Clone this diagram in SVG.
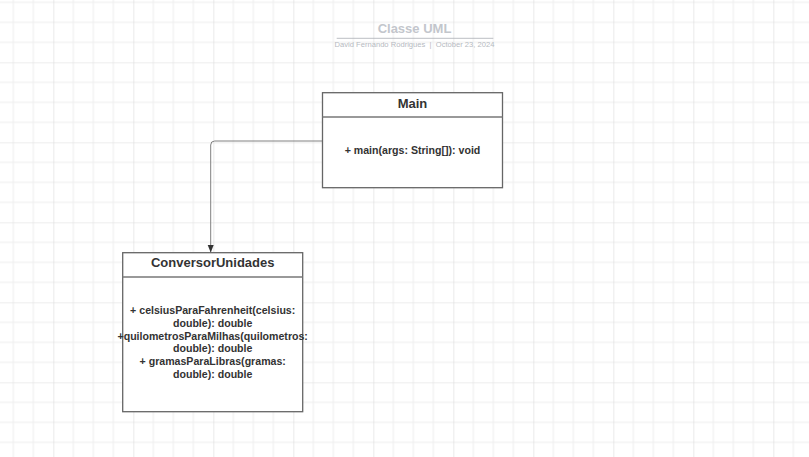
<svg xmlns="http://www.w3.org/2000/svg" width="809" height="457" viewBox="0 0 809 457">
  <defs>
    <pattern id="grid" x="53.33" y="62.33" width="80" height="80" patternUnits="userSpaceOnUse">
      <path d="M20 0V80M40 0V80M60 0V80M0 20H80M0 40H80M0 60H80" stroke="#ededed" stroke-width="1" fill="none"/>
      <path d="M0 0V80M0 0H80" stroke="#dcdcdc" stroke-width="1.2" fill="none"/>
    </pattern>
    <marker id="arrow" viewBox="0 0 8 8" refX="8" refY="4" markerWidth="8" markerHeight="8" markerUnits="userSpaceOnUse" orient="auto">
      <path d="M0 0.8L8 4L0 7.2Z" fill="#333"/>
    </marker>
    <style>
      .box{fill:#fff;stroke:#666;stroke-width:1.3}
      .div{stroke:#777;stroke-width:1.5}
      .hdr{font-family:"Liberation Sans",Arial,sans-serif;font-weight:bold;font-size:13px;fill:#333;text-anchor:middle}
      .m{font-family:"Liberation Sans",Arial,sans-serif;font-weight:bold;font-size:10.6px;fill:#333;text-anchor:middle}
      .conn{fill:none;stroke:#808080;stroke-width:1}
    </style>
  </defs>
  <rect width="809" height="457" fill="#fff"/>
  <rect width="809" height="457" fill="url(#grid)"/>
  <g id="title">
    <text x="414.5" y="32.7" font-family="Liberation Sans, Arial, sans-serif" font-weight="bold" font-size="13" fill="#c3c6cc" text-anchor="middle">Classe UML</text>
    <line x1="336.7" y1="38.3" x2="493.3" y2="38.3" stroke="#a9adb4" stroke-width="0.8"/>
    <text x="414.5" y="46.7" font-family="Liberation Sans, Arial, sans-serif" font-size="7.6" fill="#b6bac1" text-anchor="middle" xml:space="preserve">David Fernando Rodrigues  |  October 23, 2024</text>
  </g>
  <g id="connectors">
    <path class="conn" d="M322.5 141H214.7Q210.7 141 210.7 145V252.5" marker-end="url(#arrow)"/>
  </g>
  <g id="Main">
    <rect class="box" x="322.5" y="92.7" width="180" height="95"/>
    <line class="div" x1="322.5" y1="117" x2="502.5" y2="117"/>
    <text class="hdr" x="412.5" y="107.7">Main</text>
    <text class="m" x="412.5" y="154.3">+ main(args: String[]): void</text>
  </g>
  <g id="ConversorUnidades">
    <rect class="box" x="122.7" y="252.7" width="180" height="159"/>
    <line class="div" x1="122.7" y1="277" x2="302.7" y2="277"/>
    <text class="hdr" x="212.7" y="267">ConversorUnidades</text>
    <text class="m" x="212.7" y="314.3">+ celsiusParaFahrenheit(celsius:</text>
    <text class="m" x="212.7" y="327">double): double</text>
    <text class="m" x="212.7" y="339.7">+quilometrosParaMilhas(quilometros:</text>
    <text class="m" x="212.7" y="352.3">double): double</text>
    <text class="m" x="212.7" y="365">+ gramasParaLibras(gramas:</text>
    <text class="m" x="212.7" y="377.7">double): double</text>
  </g>
</svg>
